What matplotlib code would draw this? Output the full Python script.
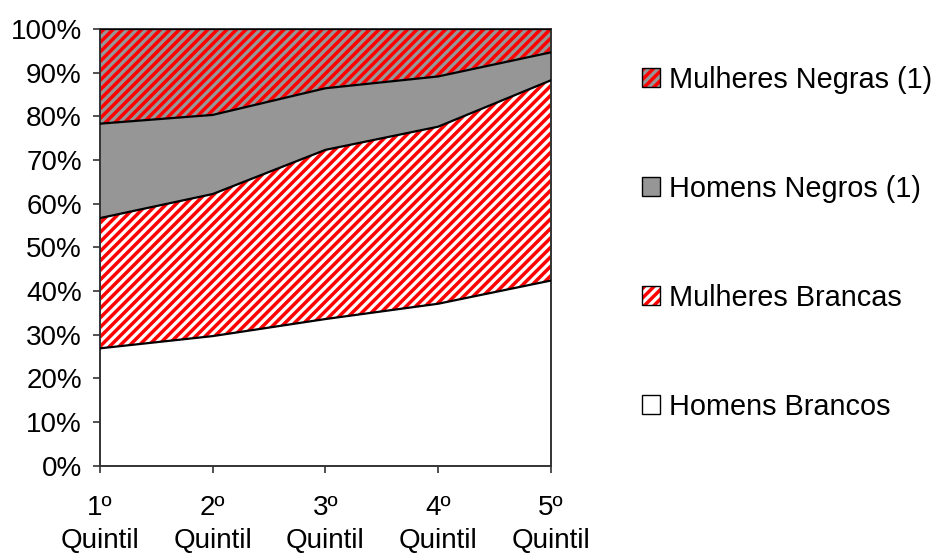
import numpy as np
import matplotlib
matplotlib.use("Agg")
import matplotlib.pyplot as plt
from matplotlib.patches import Patch

# dpi escolhido para o espaçamento da hachura ficar igual ao original;
# k converte os tamanhos pensados para 100 dpi
DPI = 114
k = 100.0 / DPI

plt.rcParams["font.family"] = ["Liberation Sans", "DejaVu Sans"]
plt.rcParams["hatch.linewidth"] = 2.5 * k

quintis = ["1º\nQuintil", "2º\nQuintil", "3º\nQuintil", "4º\nQuintil", "5º\nQuintil"]
homens_brancos = [26.9, 29.7, 33.6, 37.1, 42.4]
mulheres_brancas = [29.8, 32.5, 38.7, 40.5, 45.8]
homens_negros = [21.6, 18.1, 14.1, 11.5, 6.4]
mulheres_negras = [21.7, 19.7, 13.6, 10.9, 5.4]

series = [homens_brancos, mulheres_brancas, homens_negros, mulheres_negras]
nomes = ["Homens Brancos", "Mulheres Brancas", "Homens Negros (1)", "Mulheres Negras (1)"]
fundos = ["white", "white", "#969696", "#969696"]
hachuras = [None, "////", None, "////"]

fig = plt.figure(figsize=(935 / DPI, 554 / DPI), dpi=DPI)
ax = fig.add_axes([0.107, 0.159, 0.482, 0.789])

x = np.arange(len(quintis))
base = np.zeros(len(x))
handles = []
for vals, nome, cor, h in zip(series, nomes, fundos, hachuras):
    topo = base + np.array(vals)
    ax.fill_between(x, base, topo, facecolor=cor, edgecolor="red" if h else cor,
                    hatch=h, linewidth=0)
    ax.plot(x, topo, color="black", lw=1.6 * k, zorder=3)
    # quadradinho da legenda: fundo hachurado + contorno preto por cima
    fundo = Patch(facecolor=cor, edgecolor="red" if h else cor, hatch=h, linewidth=0)
    contorno = Patch(facecolor="none", edgecolor="black", linewidth=1.0 * k)
    handles.append((fundo, contorno))
    base = topo

ax.set_xlim(0, 4)
ax.set_ylim(0, 100)
ax.set_xticks(x)
ax.set_xticklabels(quintis, fontsize=20 * k, linespacing=1.35)
ax.set_yticks(np.arange(0, 101, 10))
ax.set_yticklabels(["{}%".format(v) for v in range(0, 101, 10)], fontsize=20 * k)
ax.tick_params(direction="out", length=5 * k, width=1.2 * k, color="#333333")
ax.tick_params(axis="x", pad=16 * k)
ax.tick_params(axis="y", pad=8 * k)
for s in ax.spines.values():
    s.set_color("#333333")
    s.set_linewidth(1.4 * k)

fig.legend(handles[::-1], nomes[::-1], loc="center left", bbox_to_anchor=(0.659, 0.561),
           frameon=False, fontsize=20.8 * k, handlelength=0.62, handleheight=0.62,
           handletextpad=0.3, labelspacing=2.8)

plt.savefig("out.png", dpi=DPI)
